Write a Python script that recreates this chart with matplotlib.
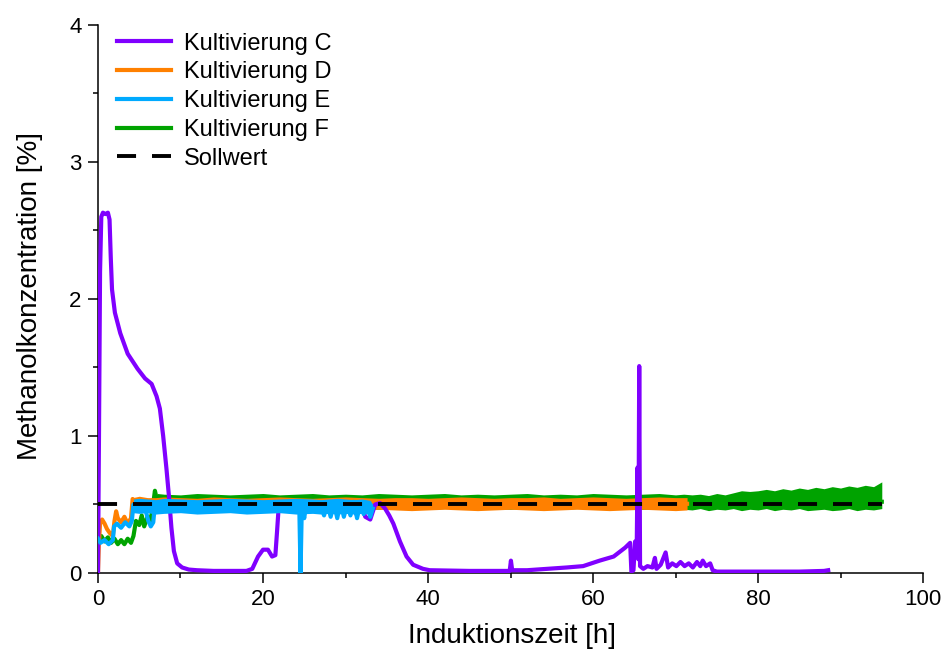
import matplotlib
matplotlib.use('Agg')
import matplotlib.pyplot as plt
from matplotlib import ticker


COLORS = {
    'C': '#8000ff', 'D': '#ff8000', 'E': '#00aaff', 'F': '#00a300',
}

# Kultivierung C (purple).
C_x = [
    0, 0.12, 0.25, 0.4, 0.6, 0.9, 1.2, 1.4, 1.55, 1.7, 2.05, 2.7, 3.6, 4.8,
    5.7, 6.5, 7.1, 7.5, 7.9, 8.3, 8.6, 8.9, 9.2, 9.6, 10.2, 11, 12, 14, 16,
    18, 18.7, 19.4, 20.0, 20.6, 21.1, 21.5, 21.7, 21.9, 22.3, 24, 26, 28,
    29.5, 30.2, 30.7, 31.3, 31.9, 32.4, 33.0, 33.6, 34.2, 34.8, 35.3, 35.8,
    36.6, 37.4, 38.2, 39.4, 40.2, 45, 49.9, 50.05, 50.2, 52, 54.4, 56.8,
    58.8, 60.8, 62.5, 63.9, 64.5, 64.65, 64.9, 65.1, 65.3, 65.4, 65.5, 65.6,
    65.7, 66.1, 66.6, 67.2, 67.5, 67.7, 68.2, 68.8, 69.1, 69.6, 70.1, 70.6,
    71.1, 71.6, 72.1, 72.6, 73.0, 73.3, 73.7, 74.2, 74.5, 75.0, 80, 85,
    88.0, 88.5]
C_y = [
    0.0, 1.0, 2.2, 2.6, 2.63, 2.62, 2.63, 2.58, 2.3, 2.07, 1.90, 1.75, 1.60,
    1.49, 1.42, 1.38, 1.29, 1.20, 1.00, 0.76, 0.56, 0.33, 0.16, 0.07, 0.04,
    0.025, 0.02, 0.015, 0.015, 0.015, 0.03, 0.12, 0.17, 0.17, 0.12, 0.13,
    0.30, 0.48, 0.51, 0.50, 0.51, 0.50, 0.51, 0.47, 0.51, 0.43, 0.50, 0.41,
    0.39, 0.50, 0.51, 0.47, 0.42, 0.36, 0.23, 0.12, 0.06, 0.03, 0.02, 0.015,
    0.015, 0.09, 0.02, 0.02, 0.03, 0.04, 0.05, 0.09, 0.12, 0.185, 0.22,
    0.01, 0.02, 0.23, 0.2, 0.77, 0.1, 1.51, 0.05, 0.03, 0.05, 0.04, 0.11,
    0.03, 0.06, 0.15, 0.04, 0.07, 0.05, 0.08, 0.05, 0.07, 0.04, 0.08, 0.05,
    0.09, 0.05, 0.07, 0.02, 0.01, 0.01, 0.01, 0.015, 0.02]

# Kultivierung D (orange): start-up trace and the noisy band after it.
D_x = [
    0, 0.1, 0.25, 0.5, 0.8, 1.1, 1.45, 1.8, 2.0, 2.2, 2.4, 2.8, 3.2, 3.6,
    4.0, 4.2, 4.6, 71.4]
D_y = [
    0.0, 0.2, 0.36, 0.39, 0.36, 0.32, 0.29, 0.27, 0.38, 0.45, 0.40, 0.37,
    0.41, 0.36, 0.40, 0.54, 0.51, 0.505]
D_band_x = [
    4.2, 5, 6, 7, 8, 10, 12, 14, 16, 18, 20, 22, 24, 26, 28, 30, 32, 34, 36,
    38, 40, 42, 44, 46, 48, 50, 52, 54, 56, 58, 60, 62, 64, 66, 68, 70, 71.4]
D_band_hi = [
    0.55, 0.56, 0.55, 0.55, 0.555, 0.55, 0.545, 0.555, 0.55, 0.545, 0.55,
    0.555, 0.55, 0.545, 0.55, 0.555, 0.55, 0.545, 0.55, 0.55, 0.545, 0.55,
    0.555, 0.55, 0.545, 0.55, 0.55, 0.555, 0.545, 0.55, 0.555, 0.55, 0.545,
    0.55, 0.555, 0.55, 0.55]
D_band_lo = [
    0.46, 0.465, 0.46, 0.455, 0.46, 0.465, 0.46, 0.455, 0.46, 0.465, 0.46,
    0.455, 0.46, 0.465, 0.46, 0.455, 0.46, 0.465, 0.46, 0.455, 0.46, 0.465,
    0.46, 0.455, 0.46, 0.465, 0.46, 0.455, 0.46, 0.465, 0.46, 0.455, 0.46,
    0.465, 0.46, 0.455, 0.46]

# Kultivierung E (blue).
E_x = [
    0, 0.3, 0.8, 1.3, 1.8, 1.95, 2.3, 2.8, 3.3, 3.8, 4.1, 4.3, 5.0, 5.6,
    6.1, 6.4, 6.7, 6.9, 8, 24.4, 24.55, 24.7, 25.0, 25.2, 27, 27.4, 27.8,
    28.2, 28.6, 29.0, 29.4, 29.8, 30.2, 30.6, 31.0, 31.4, 31.8, 32.2, 32.6,
    33.0, 33.3]
E_y = [
    0.25, 0.22, 0.24, 0.21, 0.24, 0.34, 0.36, 0.33, 0.37, 0.34, 0.38, 0.50,
    0.48, 0.50, 0.38, 0.34, 0.37, 0.50, 0.49, 0.48, 0.0, 0.47, 0.40, 0.49,
    0.49, 0.42, 0.51, 0.41, 0.51, 0.40, 0.52, 0.41, 0.50, 0.42, 0.52, 0.40,
    0.51, 0.43, 0.50, 0.41, 0.47]
E_band_x = [
    4.3, 5, 6, 7, 8, 10, 12, 14, 16, 18, 20, 22, 24, 26, 27, 28, 29, 30, 31,
    32, 33, 33.3]
E_band_hi = [
    0.54, 0.545, 0.54, 0.535, 0.545, 0.54, 0.535, 0.54, 0.545, 0.54, 0.535,
    0.54, 0.545, 0.54, 0.535, 0.54, 0.545, 0.54, 0.535, 0.54, 0.53, 0.5]
E_band_lo = [
    0.44, 0.435, 0.44, 0.43, 0.435, 0.44, 0.43, 0.435, 0.44, 0.43, 0.435,
    0.44, 0.43, 0.435, 0.43, 0.435, 0.43, 0.435, 0.43, 0.435, 0.43, 0.45]

# Kultivierung F (green).
F_x = [
    0, 0.4, 0.8, 1.2, 1.6, 2.0, 2.4, 2.8, 3.2, 3.6, 4.0, 4.3, 4.6, 5.0, 5.3,
    5.6, 6.0, 6.3, 6.6, 6.9, 7.2, 95]
F_y = [
    0.24, 0.27, 0.23, 0.26, 0.22, 0.25, 0.21, 0.24, 0.21, 0.25, 0.22, 0.27,
    0.38, 0.35, 0.42, 0.34, 0.41, 0.37, 0.46, 0.60, 0.52, 0.52]
F_band_x = [
    7.2, 8, 10, 12, 14, 16, 18, 20, 22, 24, 26, 28, 30, 32, 34, 36, 38, 40,
    42, 44, 46, 48, 50, 52, 54, 56, 58, 60, 62, 64, 66, 68, 70, 71, 72, 73,
    74, 75, 76, 77, 78, 79, 80, 81, 82, 83, 84, 85, 86, 87, 88, 89, 90, 91,
    92, 93, 94, 95]
F_band_hi = [
    0.58, 0.575, 0.57, 0.58, 0.575, 0.57, 0.575, 0.58, 0.57, 0.575, 0.58,
    0.57, 0.575, 0.57, 0.58, 0.575, 0.57, 0.575, 0.58, 0.57, 0.575, 0.57,
    0.575, 0.58, 0.57, 0.575, 0.57, 0.58, 0.575, 0.57, 0.575, 0.58, 0.57,
    0.575, 0.57, 0.575, 0.565, 0.58, 0.57, 0.585, 0.60, 0.595, 0.60, 0.61,
    0.60, 0.615, 0.605, 0.62, 0.61, 0.625, 0.615, 0.63, 0.62, 0.635, 0.625,
    0.64, 0.63, 0.665]
F_band_lo = [
    0.47, 0.465, 0.47, 0.475, 0.465, 0.47, 0.465, 0.475, 0.47, 0.465, 0.47,
    0.475, 0.465, 0.47, 0.465, 0.475, 0.47, 0.465, 0.47, 0.475, 0.465, 0.47,
    0.465, 0.475, 0.47, 0.465, 0.47, 0.475, 0.465, 0.47, 0.465, 0.47, 0.475,
    0.465, 0.46, 0.47, 0.455, 0.465, 0.46, 0.47, 0.455, 0.465, 0.46, 0.47,
    0.455, 0.465, 0.46, 0.47, 0.455, 0.46, 0.465, 0.455, 0.46, 0.47, 0.455,
    0.465, 0.46, 0.47]

SOLL_x = [0, 95]
SOLL_y = [0.5, 0.5]

LABELS = ['Kultivierung C', 'Kultivierung D', 'Kultivierung E',
          'Kultivierung F', 'Sollwert']


def series(ax, xs, ys, color, label, band=None, order=0):
  if band is not None:
    bx, lo, hi = band
    ax.fill_between(bx, lo, hi, color=color, lw=0, zorder=order)
  line, = ax.plot(xs, ys, color=color, lw=3.0, label=label,
                  solid_joinstyle='round', zorder=order + 0.5)
  return line


plt.rcParams['font.family'] = ['Liberation Sans', 'DejaVu Sans']
fig = plt.figure(figsize=(9.44, 6.54), dpi=100)
ax = fig.add_axes([0.1038, 0.1239, 0.8740, 0.8379])

# Drawing order: F at the bottom, then D, C, E; the set point on top.
lf = series(ax, F_x, F_y, COLORS['F'], LABELS[3],
            (F_band_x, F_band_lo, F_band_hi), order=1)
ld = series(ax, D_x, D_y, COLORS['D'], LABELS[1],
            (D_band_x, D_band_lo, D_band_hi), order=2)
lc = series(ax, C_x, C_y, COLORS['C'], LABELS[0], order=3)
le = series(ax, E_x, E_y, COLORS['E'], LABELS[2],
            (E_band_x, E_band_lo, E_band_hi), order=4)
ls, = ax.plot(SOLL_x, SOLL_y, color='black', lw=2.8, label=LABELS[4],
              dashes=(4.9, 4.1), dash_capstyle='butt', zorder=6)

ax.set_xlim(0, 100)
ax.set_ylim(0, 4)
ax.xaxis.set_major_locator(ticker.MultipleLocator(20))
ax.xaxis.set_minor_locator(ticker.MultipleLocator(10))
ax.yaxis.set_major_locator(ticker.MultipleLocator(1))
ax.yaxis.set_minor_locator(ticker.MultipleLocator(0.5))
ax.tick_params(which='major', direction='out', length=7.2, width=1.1,
               labelsize=16, pad=4.5)
ax.tick_params(which='minor', direction='out', length=3.6, width=1.1)
ax.spines['top'].set_visible(False)
ax.spines['right'].set_visible(False)
for side in ('left', 'bottom'):
  ax.spines[side].set_linewidth(1.1)

ax.set_xlabel('Induktionszeit [h]', fontsize=20)
ax.set_ylabel('Methanolkonzentration [%]', fontsize=20)
ax.xaxis.set_label_coords(0.502, -0.091)
ax.yaxis.set_label_coords(-0.067, 0.505)

leg = ax.legend(
    [lc, ld, le, lf, ls], LABELS, loc='upper left',
    bbox_to_anchor=(0.023, 0.986), frameon=False, fontsize=17,
    borderaxespad=0, borderpad=0, labelspacing=0.285, handlelength=2.3,
    handletextpad=0.55)

fig.savefig('out.png', dpi=100)
